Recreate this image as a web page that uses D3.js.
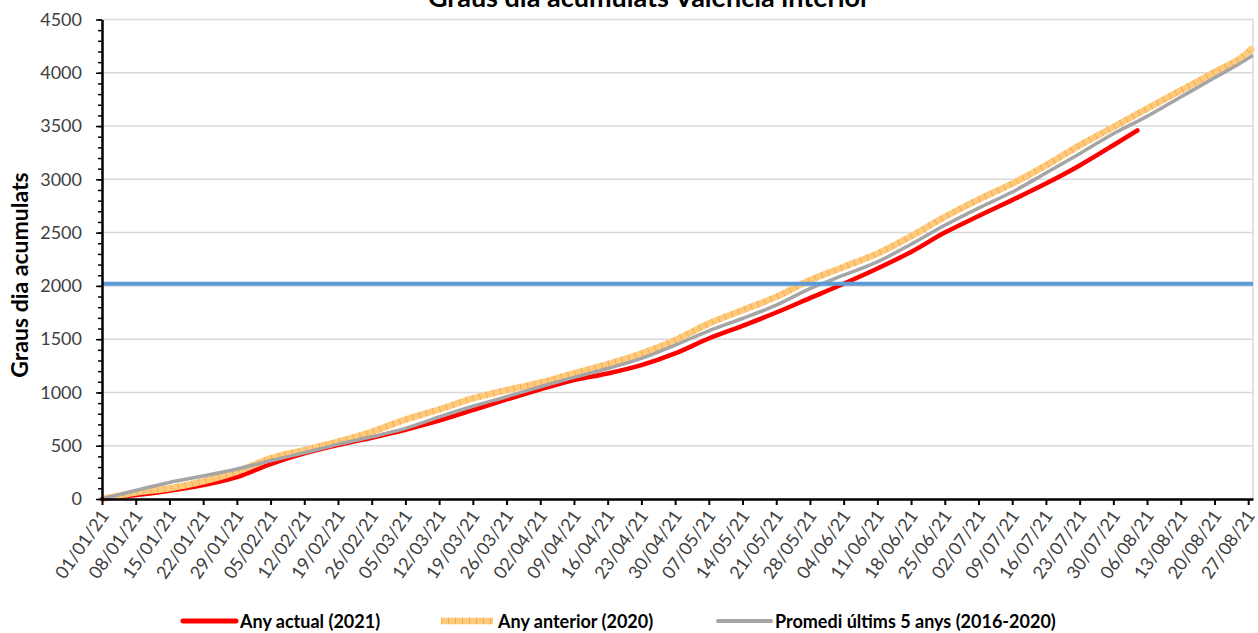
<!DOCTYPE html>
<html>
<head>
<meta charset="utf-8">
<script src="https://cdn.jsdelivr.net/npm/d3@7"></script>
<style>
  body { margin: 0; background: #fff; }
  svg { display: block; font-family: Lato, "Open Sans", sans-serif; }
</style>
</head>
<body>
<svg id="chart" width="1258" height="633"></svg>
<script>
// weekly tick labels (also the dates of the weekly readings)
const tickLabels = [
  "01/01/21", "08/01/21", "15/01/21", "22/01/21", "29/01/21", "05/02/21", "12/02/21",
  "19/02/21", "26/02/21", "05/03/21", "12/03/21", "19/03/21", "26/03/21", "02/04/21",
  "09/04/21", "16/04/21", "23/04/21", "30/04/21", "07/05/21", "14/05/21", "21/05/21",
  "28/05/21", "04/06/21", "11/06/21", "18/06/21", "25/06/21", "02/07/21", "09/07/21",
  "16/07/21", "23/07/21", "30/07/21", "06/08/21", "13/08/21", "20/08/21", "27/08/21"
];

// accumulated degree days read at each weekly date
const actual2021 = [0, 37, 78, 130, 205, 328, 428, 506, 575, 650, 735, 834, 934, 1028, 1116,
  1178, 1256, 1366, 1506, 1625, 1750, 1885, 2020, 2163, 2319, 2500, 2655, 2805, 2960, 3130, 3320];
const actualLast = { date: "04/08/21", value: 3460 };

const previous2020 = [0, 60, 100, 165, 256, 381, 459, 538, 631, 745, 840, 944, 1022, 1091, 1178,
  1266, 1366, 1491, 1647, 1772, 1897, 2053, 2178, 2303, 2466, 2647, 2810, 2959, 3131, 3319, 3491,
  3663, 3834, 4006, 4195];
const previousLast = { date: "28/08/21", value: 4240 };

const average5 = [0, 80, 155, 216, 281, 359, 434, 513, 584, 663, 770, 870, 960, 1053, 1141,
  1225, 1319, 1444, 1578, 1694, 1819, 1975, 2100, 2225, 2391, 2569, 2730, 2881, 3059, 3241, 3428,
  3591, 3772, 3953, 4135];
const averageLast = { date: "28/08/21", value: 4165 };

const threshold = 2020;
const yTicks = d3.range(0, 4501, 500);

const legendItems = ["Any actual (2021)", "Any anterior (2020)", "Promedi últims 5 anys (2016-2020)"];

const parse = d3.timeParse("%d/%m/%y");
const tickDates = tickLabels.map(parse);

const toPoints = (values, last) =>
  values.map((v, i) => ({ date: tickDates[i], value: v }))
    .concat([{ date: parse(last.date), value: last.value }]);

const svg = d3.select("#chart");

const x = d3.scaleTime()
  .domain([parse("01/01/21"), parse("28/08/21")])
  .range([102, 1253]);

const y = d3.scaleLinear()
  .domain([0, 4500])
  .range([499, 19.5]);

// grid
svg.append("g")
  .selectAll("line")
  .data(yTicks.filter(d => d > 0))
  .join("line")
  .attr("x1", 102)
  .attr("x2", 1253)
  .attr("y1", d => y(d))
  .attr("y2", d => y(d))
  .attr("stroke", "#d9d9d9")
  .attr("stroke-width", 1.5);

svg.append("line")
  .attr("x1", 1253).attr("x2", 1253)
  .attr("y1", y(4500)).attr("y2", y(0))
  .attr("stroke", "#d9d9d9")
  .attr("stroke-width", 1.5);

const line = d3.line()
  .x(d => x(d.date))
  .y(d => y(d.value))
  .curve(d3.curveMonotoneX);

// series
svg.append("path")
  .attr("d", line(toPoints(actual2021, actualLast)))
  .attr("fill", "none")
  .attr("stroke", "#ff0000")
  .attr("stroke-width", 4.5)
  .attr("stroke-linecap", "round");

const prevPath = line(toPoints(previous2020, previousLast));
svg.append("path")
  .attr("d", prevPath)
  .attr("fill", "none")
  .attr("stroke", "#fdca80")
  .attr("stroke-width", 6.5);
svg.append("path")
  .attr("d", prevPath)
  .attr("fill", "none")
  .attr("stroke", "#f7a428")
  .attr("stroke-width", 6.5)
  .attr("stroke-dasharray", "1 6")
  .attr("opacity", 0.8);

svg.append("path")
  .attr("d", line(toPoints(average5, averageLast)))
  .attr("fill", "none")
  .attr("stroke", "#a5a5a5")
  .attr("stroke-width", 3.5);

svg.append("line")
  .attr("x1", 102)
  .attr("x2", 1253)
  .attr("y1", y(threshold))
  .attr("y2", y(threshold))
  .attr("stroke", "#5b9bd5")
  .attr("stroke-width", 4);

// y axis
svg.append("g")
  .attr("transform", "translate(102,0)")
  .call(d3.axisLeft(y).tickValues(d3.range(0, 4501, 100)).tickSize(4).tickFormat(""))
  .call(g => g.select(".domain").remove())
  .call(g => g.selectAll("line").attr("stroke", "#000").attr("stroke-width", 1.5));

svg.append("g")
  .attr("transform", "translate(102,0)")
  .call(d3.axisLeft(y).tickValues(yTicks).tickSize(6).tickSizeOuter(0).tickPadding(14).tickFormat(d3.format("d")))
  .call(g => g.select(".domain").attr("stroke", "#000").attr("stroke-width", 2.5))
  .call(g => g.selectAll("line").attr("stroke", "#000").attr("stroke-width", 1.5))
  .call(g => g.selectAll("text")
    .attr("font-family", "Lato")
    .attr("font-size", 18)
    .attr("fill", "#404040"));

// x axis
svg.append("g")
  .attr("transform", "translate(0,499)")
  .call(d3.axisBottom(x).tickValues(tickDates).tickSize(6).tickSizeOuter(0).tickFormat(d3.timeFormat("%d/%m/%y")))
  .call(g => g.select(".domain").attr("stroke", "#000").attr("stroke-width", 2.5))
  .call(g => g.selectAll("line").attr("stroke", "#000").attr("stroke-width", 2))
  .call(g => g.selectAll("text")
    .attr("font-family", "Lato")
    .attr("font-size", 18)
    .attr("fill", "#404040")
    .attr("text-anchor", "end")
    .attr("dy", "0.35em")
    .attr("y", 0)
    .attr("transform", "translate(2,13) rotate(-55)"));

// titles
svg.append("text")
  .attr("x", 649)
  .attr("y", 7)
  .attr("text-anchor", "middle")
  .attr("font-size", 27)
  .attr("font-weight", "bold")
  .text("Graus dia acumulats València interior");

svg.append("text")
  .attr("transform", "translate(28,275) rotate(-90)")
  .attr("text-anchor", "middle")
  .attr("font-size", 23)
  .attr("font-weight", "bold")
  .text("Graus dia acumulats");

// legend
const legend = svg.append("g").attr("transform", "translate(0,621)");
const legendX = [183, 441, 718];

legend.append("line")
  .attr("x1", legendX[0]).attr("x2", legendX[0] + 53)
  .attr("stroke", "#ff0000").attr("stroke-width", 5).attr("stroke-linecap", "round");
legend.append("line")
  .attr("x1", legendX[1]).attr("x2", legendX[1] + 52)
  .attr("stroke", "#fdca80").attr("stroke-width", 6.5);
legend.append("line")
  .attr("x1", legendX[1]).attr("x2", legendX[1] + 52)
  .attr("stroke", "#f7a428").attr("stroke-width", 6.5)
  .attr("stroke-dasharray", "1 6").attr("opacity", 0.8);
legend.append("line")
  .attr("x1", legendX[2]).attr("x2", legendX[2] + 53)
  .attr("stroke", "#a5a5a5").attr("stroke-width", 4).attr("stroke-linecap", "round");

legend.selectAll("text")
  .data(legendItems)
  .join("text")
  .attr("x", (d, i) => legendX[i] + 57)
  .attr("y", 6.5)
  .attr("font-size", 18)
  .attr("font-weight", "bold")
  .text(d => d);
</script>
</body>
</html>
